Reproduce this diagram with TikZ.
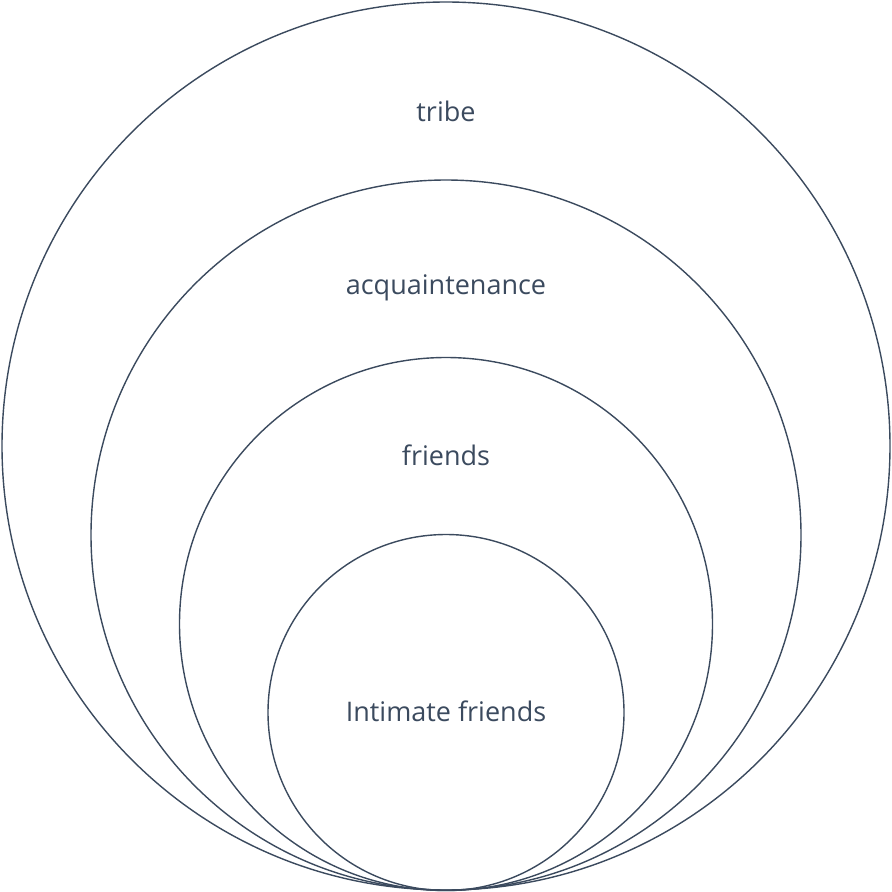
\documentclass[tikz,border=0pt]{standalone}
\usepackage{fontspec}
\setmainfont{Open Sans}
\definecolor{ink}{HTML}{3B4A5E}
\begin{document}
\begin{tikzpicture}[x=1pt,y=-1pt,
  ring/.style={draw=ink,line width=1.4pt,fill=none},
  lbl/.style={text=ink,font=\fontsize{27}{32}\selectfont,inner sep=0pt,anchor=base}]
\useasboundingbox (0,0) rectangle (892,892);
\draw[ring] (446,446) circle[radius=444];
\draw[ring] (446,535) circle[radius=355];
\draw[ring] (446,624) circle[radius=266.5];
\draw[ring] (446,712.5) circle[radius=178];
\node[lbl] (t1) at (446,121) {tribe};
\node[lbl] (t2) at (446,294) {acquaintenance};
\node[lbl] (t3) at (446,465) {friends};
\node[lbl] (t4) at (446,721) {Intimate friends};
\end{tikzpicture}
\end{document}
